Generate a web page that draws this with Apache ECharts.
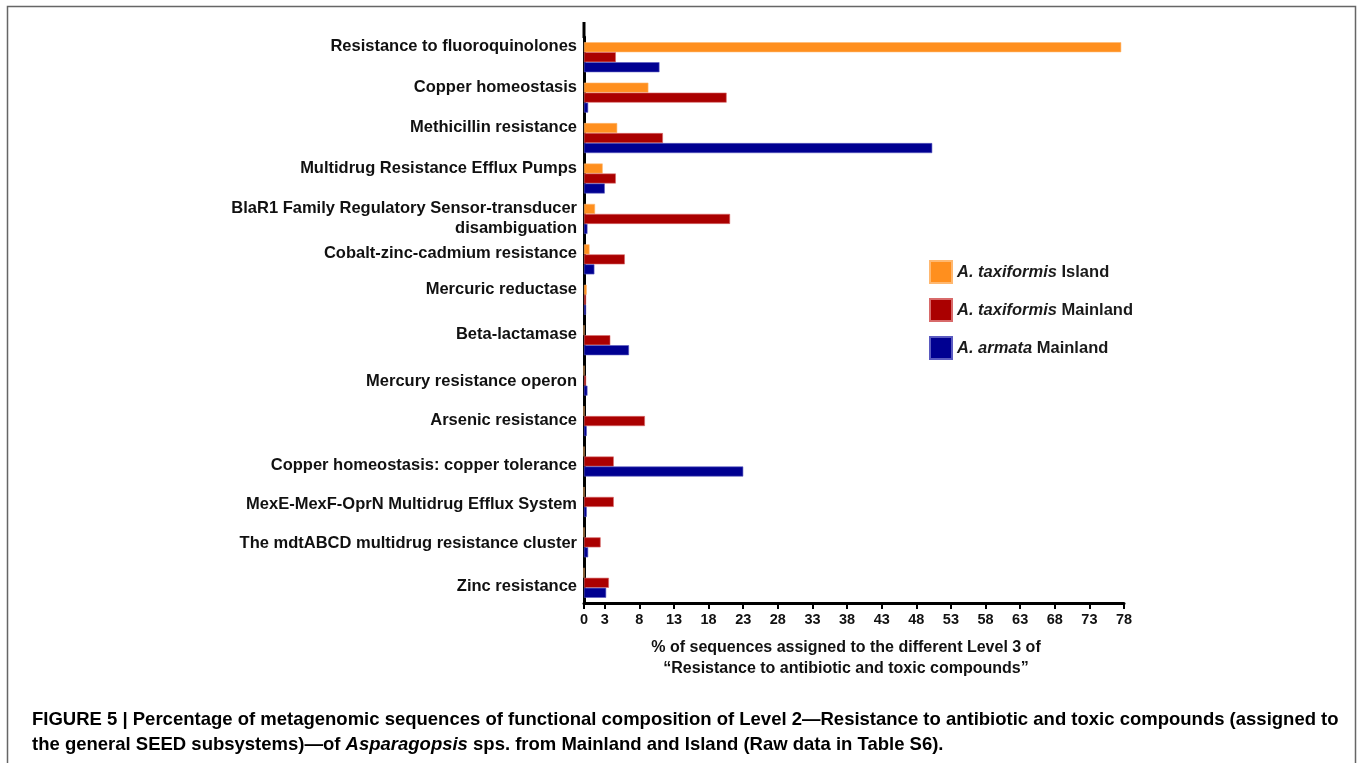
<!DOCTYPE html>
<html>
<head>
<meta charset="utf-8">
<script src="https://cdn.jsdelivr.net/npm/echarts@6/dist/echarts.min.js"></script>
<style>
  html, body { margin: 0; padding: 0; background: #fff; }
  #chart { width: 1358px; height: 763px; }
</style>
</head>
<body>
<div id="chart"></div>
<script>
// categories, top to bottom
const categories = [
  'Resistance to fluoroquinolones',
  'Copper homeostasis',
  'Methicillin resistance',
  'Multidrug Resistance Efflux Pumps',
  'BlaR1 Family Regulatory Sensor-transducer\ndisambiguation',
  'Cobalt-zinc-cadmium resistance',
  'Mercuric reductase',
  'Beta-lactamase',
  'Mercury resistance operon',
  'Arsenic resistance',
  'Copper homeostasis: copper tolerance',
  'MexE-MexF-OprN Multidrug Efflux System',
  'The mdtABCD multidrug resistance cluster',
  'Zinc resistance'
]
// % of sequences
const taxiIsland   = [77.6, 9.3, 4.8, 2.7, 1.6, 0.8, 0.4, 0, 0, 0, 0, 0, 0, 0]
const taxiMainland = [4.6, 20.6, 11.4, 4.6, 21.1, 5.9, 0.3, 3.8, 0.3, 8.8, 4.3, 4.3, 2.4, 3.6]
const armataMain   = [10.9, 0.6, 50.3, 3.0, 0.5, 1.5, 0.3, 6.5, 0.5, 0.4, 23.0, 0.4, 0.6, 3.2]
const xTicks = [0, 3, 8, 13, 18, 23, 28, 33, 38, 43, 48, 53, 58, 63, 68, 73, 78]

const FONT = '"Liberation Sans", Arial, Helvetica, sans-serif'

// small vertical nudges of the category labels (px up), as in the original figure
const labelLift = [11, 10, 11, 10, 0, 6, 10, 6, -1, 1, -4, -3, -1, -4]
let labelRich = {}
labelLift.forEach((d, i) => {
  labelRich['l' + i] = {
    fontFamily: FONT, fontWeight: 'bold', fontSize: 16.5, color: '#111',
    lineHeight: 20, align: 'right',
    padding: d >= 0 ? [0, 0, 2 * d, 0] : [-2 * d, 0, 0, 0]
  }
})

let myChart = echarts.init(document.getElementById('chart'), null, {renderer: 'canvas'})
let option = {
  backgroundColor: '#fff',
  animation: false,
  textStyle: {fontFamily: FONT},
  grid: {left: 584, right: 234, top: 37, bottom: 160},
  legend: {
    orient: 'vertical',
    left: 929,
    top: 260,
    padding: 0,
    itemWidth: 22,
    itemHeight: 22,
    itemGap: 14,
    icon: 'rect',
    formatter(name) {
      let parts = name.split('|')
      return '{i|' + parts[0] + '} ' + parts[1]
    },
    textStyle: {
      fontFamily: FONT, fontWeight: 'bold', fontSize: 16.5, color: '#1a1a1a',
      rich: {i: {fontFamily: FONT, fontWeight: 'bold', fontStyle: 'italic', fontSize: 16.5, color: '#1a1a1a'}}
    }
  },
  xAxis: {
    type: 'value',
    min: 0,
    max: 78,
    splitLine: {show: false},
    axisLine: {show: true, lineStyle: {color: '#000', width: 3}},
    axisTick: {show: true, length: 6, customValues: xTicks, lineStyle: {color: '#000', width: 2}},
    axisLabel: {
      customValues: xTicks, margin: 9,
      fontFamily: FONT, fontWeight: 'bold', fontSize: 14.5, color: '#111'
    },
    name: '% of sequences assigned to the different Level 3 of\n\u201cResistance to antibiotic and toxic compounds\u201d',
    nameLocation: 'middle',
    nameGap: 34,
    nameTextStyle: {
      fontFamily: FONT, fontWeight: 'bold', fontSize: 16, color: '#111',
      lineHeight: 21, padding: [0, 16, 0, 0]
    }
  },
  yAxis: {
    type: 'category',
    inverse: true,
    data: categories,
    axisLine: {show: true, lineStyle: {color: '#000', width: 3}},
    axisTick: {show: false},
    axisLabel: {
      margin: 7,
      formatter(value, index) {
        return '{l' + index + '|' + value + '}'
      },
      rich: labelRich
    }
  },
  series: [
    {
      name: 'A. taxiformis|Island', type: 'bar', data: taxiIsland, barWidth: 10, barGap: '0%',
      itemStyle: {color: '#FF8F1E', borderColor: '#FFB870', borderWidth: 0.6}
    },
    {
      name: 'A. taxiformis|Mainland', type: 'bar', data: taxiMainland, barWidth: 10, barGap: '0%',
      itemStyle: {color: '#AA0000', borderColor: '#D86A6A', borderWidth: 0.6}
    },
    {
      name: 'A. armata|Mainland', type: 'bar', data: armataMain, barWidth: 10, barGap: '0%',
      itemStyle: {color: '#000091', borderColor: '#5A5AC0', borderWidth: 0.6}
    }
  ],
  graphic: [
    // figure frame
    {
      type: 'polyline', silent: true,
      shape: {points: [[7.5, 770], [7.5, 6.5], [1355.5, 6.5], [1355.5, 770]]},
      style: {stroke: '#666', lineWidth: 1.5, fill: null}
    },
    // the y axis line runs a bit above the first category
    {
      type: 'line', silent: true,
      shape: {x1: 584, y1: 22, x2: 584, y2: 38},
      style: {stroke: '#000', lineWidth: 3}
    },
    // caption
    {
      type: 'text', left: 32, top: 710, silent: true,
      style: {
        text: '{b|FIGURE 5 | Percentage of metagenomic sequences of functional composition of Level 2\u2014Resistance to antibiotic and toxic compounds (assigned to}\n' +
              '{b|the general SEED subsystems)\u2014of }{i|Asparagopsis}{b| sps. from Mainland and Island (Raw data in Table S6).}',
        rich: {
          b: {fontFamily: FONT, fontWeight: 'bold', fontSize: 18.5, color: '#333', lineHeight: 25.5},
          i: {fontFamily: FONT, fontWeight: 'bold', fontStyle: 'italic', fontSize: 18.5, color: '#333', lineHeight: 25.5}
        }
      }
    }
  ]
}
myChart.setOption(option)
</script>
</body>
</html>
